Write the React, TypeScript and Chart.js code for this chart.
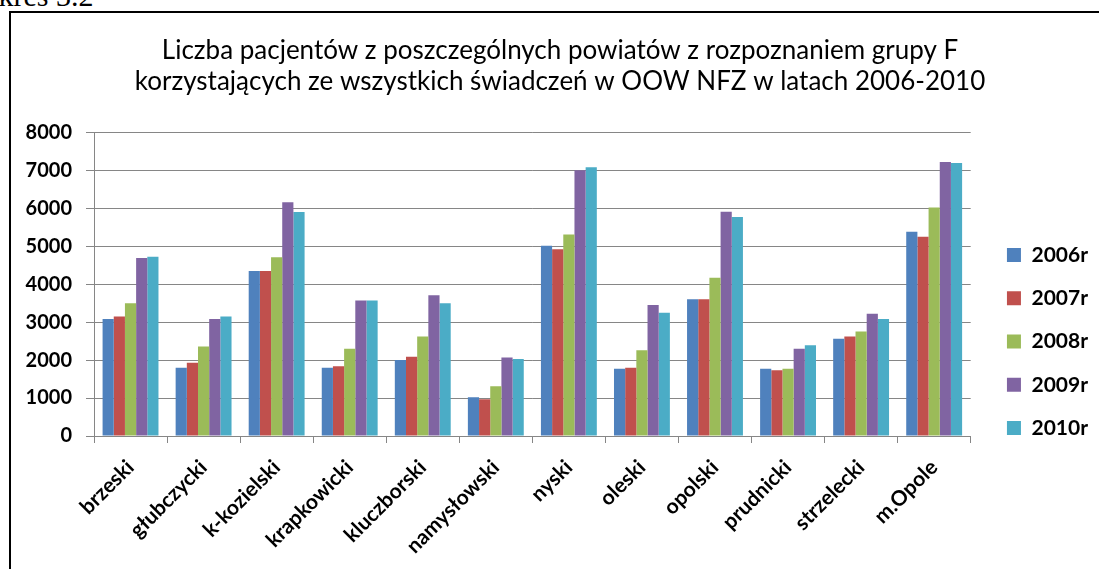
import React, { useEffect, useRef } from 'react';
import { Chart, registerables } from 'chart.js';

Chart.register(...registerables);

const categories = ['brzeski', 'głubczycki', 'k-kozielski', 'krapkowicki', 'kluczborski', 'namysłowski', 'nyski', 'oleski', 'opolski', 'prudnicki', 'strzelecki', 'm.Opole'];
const seriesLabels = ['2006r', '2007r', '2008r', '2009r', '2010r'];
const s2006 = [3080, 1800, 4350, 1800, 2000, 1020, 5010, 1770, 3600, 1770, 2560, 5380];
const s2007 = [3150, 1930, 4350, 1840, 2090, 970, 4920, 1800, 3600, 1730, 2620, 5250];
const s2008 = [3500, 2360, 4710, 2300, 2620, 1310, 5310, 2260, 4170, 1770, 2750, 6020];
const s2009 = [4690, 3080, 6160, 3570, 3710, 2070, 7000, 3450, 5910, 2300, 3220, 7220];
const s2010 = [4720, 3150, 5900, 3570, 3500, 2030, 7080, 3250, 5770, 2390, 3080, 7190];
const seriesData = [s2006, s2007, s2008, s2009, s2010];
const colors = ['#4F81BD', '#C0504D', '#9BBB59', '#8064A2', '#4BACC6'];
const titleLines = [
  'Liczba pacjentów z poszczególnych powiatów z rozpoznaniem grupy F',
  'korzystających ze wszystkich świadczeń w OOW NFZ w latach 2006-2010',
];
const yMin = 0;
const yMax = 8000;
const yStep = 1000;

const CW = 1087;
const CH = 657;
const PLOT_BOTTOM = 423;
const GRID = '#868686';

export default function App() {
  const ref = useRef<HTMLCanvasElement>(null);
  useEffect(() => {
    const canvas = ref.current;
    if (!canvas) return;
    const yFont = { family: 'Lato', size: 20, weight: 'bold' as const };
    const labelFont = { family: 'Lato', size: 21, weight: 'bold' as const };
    const chart = new Chart(canvas, {
      type: 'bar',
      data: {
        labels: categories,
        datasets: seriesLabels.map((label, i) => ({
          label,
          data: seriesData[i],
          backgroundColor: colors[i],
          borderWidth: 0,
          categoryPercentage: 0.765,
          barPercentage: 1,
          yAxisID: 'y',
        })),
      },
      options: {
        responsive: false,
        animation: false,
        devicePixelRatio: 1,
        layout: { padding: { left: 11, right: 0, top: 0, bottom: 0 } },
        plugins: {
          title: {
            display: true,
            text: titleLines,
            color: '#000',
            font: { family: 'Lato', size: 26, weight: 'normal', lineHeight: 1.18 },
            padding: { top: 22.5, bottom: 35.5 },
          },
          legend: {
            position: 'right',
            align: 'center',
            labels: {
              boxWidth: 14,
              boxHeight: 14,
              padding: 22.25,
              color: '#000',
              font: labelFont,
            },
          },
          tooltip: { enabled: false },
        },
        scales: {
          x: {
            grid: { display: true, drawOnChartArea: false, drawTicks: true, tickLength: 7, color: GRID, offset: true },
            border: { color: GRID },
            ticks: { minRotation: 45, maxRotation: 45, autoSkip: false, padding: 12, color: '#000', font: labelFont },
            afterFit: (s: any) => { s.height = CH - PLOT_BOTTOM; },
          },
          y: {
            min: yMin,
            max: yMax,
            ticks: { stepSize: yStep, padding: 14, color: '#000', font: yFont, callback: (v: any) => String(v) },
            grid: { color: GRID, tickLength: 8 },
            border: { color: GRID },
            afterFit: (s: any) => { s.width = 72; },
          },
          gap: {
            type: 'linear',
            position: 'right',
            display: true,
            grid: { display: false },
            ticks: { display: false },
            border: { display: false },
            afterFit: (s: any) => { s.width = 14; },
          },
        },
      },
    } as any);
    return () => chart.destroy();
  }, []);

  return (
    <div style={{ position: 'fixed', inset: 0, overflow: 'hidden', background: '#fff' }}>
      <span
        style={{
          position: 'absolute',
          left: -43,
          top: -18.6,
          fontFamily: '"Liberation Serif", "Times New Roman", serif',
          fontSize: 30,
          lineHeight: '30px',
          whiteSpace: 'nowrap',
          color: '#000',
        }}
      >
        Wykres 3.2
      </span>
      <div
        style={{
          position: 'absolute',
          left: 9,
          top: 11,
          width: 1200,
          height: 700,
          border: '2px solid #000',
          overflow: 'hidden',
          background: '#fff',
        }}
      >
        <canvas ref={ref} width={CW} height={CH} style={{ display: 'block', position: 'absolute', left: 0, top: 0 }} />
      </div>
    </div>
  );
}
